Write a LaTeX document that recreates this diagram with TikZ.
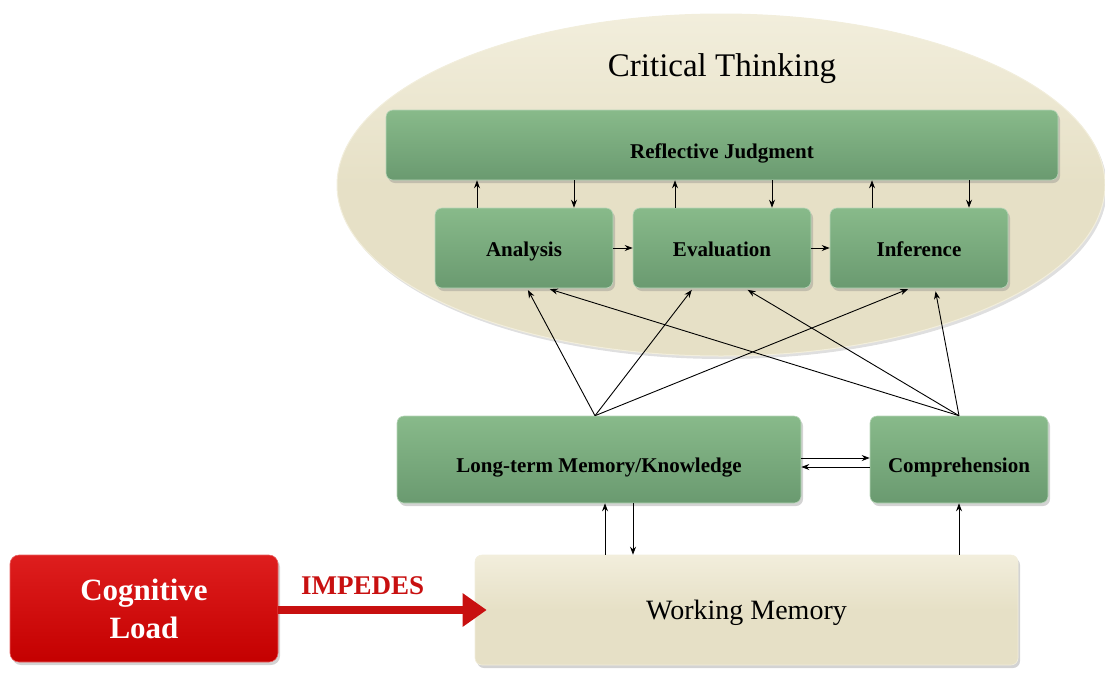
\documentclass[tikz,border=0pt]{standalone}
\usepackage{fontspec}
\setmainfont{Liberation Serif}
\usetikzlibrary{shadows,arrows.meta,shapes.geometric}
\definecolor{gtop}{RGB}{136,186,138}
\definecolor{gbot}{RGB}{106,154,112}
\definecolor{beige}{RGB}{230,224,198}
\definecolor{beigetop}{RGB}{242,238,220}
\definecolor{rtop}{RGB}{222,30,30}
\definecolor{rbot}{RGB}{196,0,0}
\definecolor{impred}{RGB}{200,16,16}
\newcommand\dropby[2]{\raisebox{-#1}[0pt][0pt]{#2}}
\begin{document}
\begin{tikzpicture}[x=1pt,y=-1pt,
  gbox/.style={draw=gtop!60!white, line width=0.6pt, rounded corners=7pt, top color=gtop, bottom color=gbot,
    drop shadow={shadow xshift=2pt,shadow yshift=-3pt,opacity=0.35},
    font=\bfseries\fontsize{21}{23}\selectfont, inner sep=0pt},
  arr/.style={-{Stealth[length=8pt,width=6pt]}, line width=0.9pt},
]
\useasboundingbox (0,0) rectangle (1105,675);
\node[ellipse, minimum width=768pt, minimum height=342pt, inner sep=0pt, draw=beigetop, line width=1pt,
      top color=beigetop, bottom color=beige, middle color=beige,
      drop shadow={shadow xshift=2pt,shadow yshift=-3pt,opacity=0.25}] (ct) at (721,185) {};
\node[font=\fontsize{33}{35}\selectfont] (ctlabel) at (722,69) {Critical Thinking};

\node[gbox, minimum width=672pt, minimum height=70pt] (rj) at (722,145) {\dropby{13pt}{Reflective Judgment}};
\node[gbox, minimum width=178pt, minimum height=80pt] (an) at (524,248) {\dropby{8pt}{Analysis}};
\node[gbox, minimum width=178pt, minimum height=80pt] (ev) at (722,248) {\dropby{8pt}{Evaluation}};
\node[gbox, minimum width=178pt, minimum height=80pt] (inf) at (919,248) {\dropby{8pt}{Inference}};
\node[gbox, minimum width=404pt, minimum height=87pt] (ltm) at (599,459.5) {\dropby{13pt}{Long-term Memory/Knowledge}};
\node[gbox, minimum width=178pt, minimum height=87pt] (comp) at (959,459.5) {\dropby{13pt}{Comprehension}};
\node[draw=beigetop, line width=0.6pt, rounded corners=7pt, top color=beigetop, bottom color=beige, middle color=beige,
      drop shadow={shadow xshift=2pt,shadow yshift=-3pt,opacity=0.35},
      minimum width=543pt, minimum height=110pt, inner sep=0pt,
      font=\fontsize{28}{30}\selectfont] (wm) at (746.5,610) {\dropby{9pt}{Working Memory}};
\node[draw=rtop!70!white, line width=0.6pt, rounded corners=9pt, top color=rtop, bottom color=rbot,
      drop shadow={shadow xshift=2pt,shadow yshift=-3pt,opacity=0.35},
      minimum width=268pt, minimum height=107pt, text=white, align=center,
      font=\bfseries\fontsize{31}{38}\selectfont] (cl) at (144,608.5) {Cognitive\\Load};

% Reflective judgment <-> processes
\foreach \b in {an,ev,inf}{
  \draw[arr] ([xshift=-47pt]\b.north) -- ([xshift=-47pt]\b.north |- rj.south);
  \draw[arr] ([xshift=50pt]\b.north |- rj.south) -- ([xshift=50pt]\b.north);
}
\draw[arr] (an.east) -- (ev.west);
\draw[arr] (ev.east) -- (inf.west);

% LTM and comprehension to processes
\draw[arr, shorten >=2pt] ([xshift=-4pt]ltm.north) -- ([xshift=3pt]an.south);
\draw[arr, shorten >=2pt] ([xshift=-4pt]ltm.north) -- ([xshift=-29pt]ev.south);
\draw[arr, shorten >=2pt] ([xshift=-4pt]ltm.north) -- ([xshift=-9pt]inf.south);
\draw[arr, shorten >=3pt] (comp.north) -- ([xshift=23pt]an.south);
\draw[arr, shorten >=3pt] (comp.north) -- ([xshift=23pt]ev.south);
\draw[arr, shorten >=3pt] (comp.north) -- ([xshift=16pt]inf.south);

% LTM <-> comprehension
\draw[arr] ([yshift=1.5pt]ltm.east) -- ([yshift=1.5pt]comp.west);
\draw[arr] ([yshift=-7.5pt]comp.west) -- ([yshift=-7.5pt]ltm.east);

% Working memory links
\draw[arr] ([xshift=6pt]ltm.south |- wm.north) -- ([xshift=6pt]ltm.south);
\draw[arr] ([xshift=34pt]ltm.south) -- ([xshift=34pt]ltm.south |- wm.north);
\draw[arr] (comp.south |- wm.north) -- (comp.south);

% Impedes
\draw[draw=impred, line width=8pt, -{Triangle[length=24pt,width=32pt]}, shorten >=-12pt]
  ([yshift=-1.5pt]cl.east) -- ([yshift=-1.5pt]cl.east -| wm.west)
  node[pos=0.43, above=8pt, text=impred, font=\bfseries\fontsize{27}{29}\selectfont] (imp) {IMPEDES};
\end{tikzpicture}
\end{document}
